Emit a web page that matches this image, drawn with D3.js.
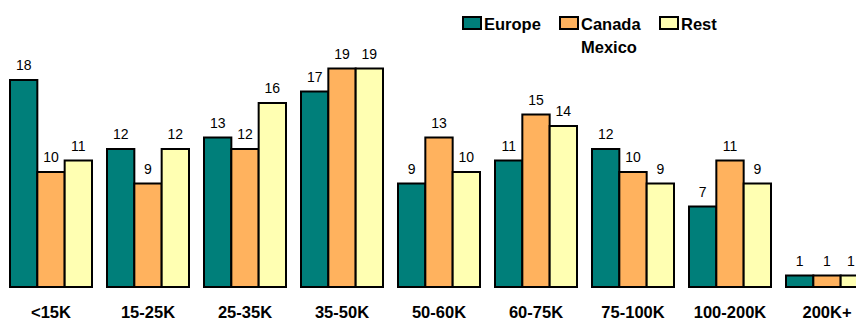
<!DOCTYPE html>
<html>
<head>
<meta charset="utf-8">
<script src="https://cdn.jsdelivr.net/npm/d3@7"></script>
<style>
  html, body { margin: 0; padding: 0; background: #fff; }
  svg { display: block; }
</style>
</head>
<body>
<svg id="chart" width="856" height="320"></svg>
<script>
// Income brackets along the x axis
const categories = ["<15K", "15-25K", "25-35K", "35-50K", "50-60K", "60-75K", "75-100K", "100-200K", "200K+"];

// Series names (legend lines split on "\n")
const seriesNames = ["Europe", "Canada\nMexico", "Rest"];

// Percent of respondents per bracket, one array per series
const europe = [18, 12, 13, 17, 9, 11, 12, 7, 1];
const canadaMexico = [10, 9, 12, 19, 13, 15, 10, 11, 1];
const rest = [11, 12, 16, 19, 10, 14, 9, 9, 1];

const seriesValues = [europe, canadaMexico, rest];
const colors = ["#007f7a", "#ffb25e", "#ffffb2"];

const svg = d3.select("#chart");
const W = 856, H = 320;

const x = d3.scaleBand()
  .domain(categories)
  .range([2.5, 875.5])
  .paddingInner(15 / 97)
  .paddingOuter(7.5 / 97);

const xs = d3.scaleBand()
  .domain(d3.range(seriesNames.length))
  .range([0, x.bandwidth()])
  .padding(0);

const y = d3.scaleLinear()
  .domain([0, 20])
  .range([287, 57]);

const rows = categories.map((c, i) => ({
  cat: c,
  vals: seriesValues.map((s, j) => ({ j, v: s[i] }))
}));

const groups = svg.append("g").selectAll("g")
  .data(rows)
  .join("g")
  .attr("transform", d => `translate(${x(d.cat)},0)`);

groups.selectAll("rect")
  .data(d => d.vals)
  .join("rect")
  .attr("x", d => xs(d.j))
  .attr("y", d => y(d.v))
  .attr("width", xs.bandwidth())
  .attr("height", d => y(0) - y(d.v))
  .attr("fill", d => colors[d.j])
  .attr("stroke", "#000")
  .attr("stroke-width", 2);

// Value labels, kept inside the right edge of the canvas
groups.selectAll("text.val")
  .data(d => d.vals.map(v => ({ ...v, gx: x(d.cat) })))
  .join("text")
  .attr("class", "val")
  .attr("x", d => Math.min(xs(d.j) + xs.bandwidth() / 2, W - 5 - d.gx))
  .attr("y", d => y(d.v) - 10)
  .attr("text-anchor", "middle")
  .attr("font-family", "'Liberation Sans', Arial, sans-serif")
  .attr("font-size", 14)
  .attr("fill", "#000")
  .text(d => d.v);

// Category axis labels (no axis line or ticks)
const xAxis = svg.append("g")
  .attr("transform", `translate(0,${y(0)})`)
  .call(d3.axisBottom(x).tickSize(0).tickPadding(0));
xAxis.select(".domain").remove();
xAxis.selectAll("text")
  .attr("dy", null)
  .attr("y", 31)
  .attr("font-family", "'Liberation Sans', Arial, sans-serif")
  .attr("font-size", 16.5)
  .attr("font-weight", "bold")
  .attr("fill", "#000");

// Legend
const legendX = [463, 560, 660];
const legend = svg.append("g").selectAll("g")
  .data(seriesNames)
  .join("g")
  .attr("transform", (d, i) => `translate(${legendX[i]},17)`);

legend.append("rect")
  .attr("width", 18)
  .attr("height", 12)
  .attr("fill", (d, i) => colors[i])
  .attr("stroke", "#000")
  .attr("stroke-width", 2);

legend.append("text")
  .attr("x", 21)
  .attr("y", 12.5)
  .attr("font-family", "'Liberation Sans', Arial, sans-serif")
  .attr("font-size", 16.5)
  .attr("font-weight", "bold")
  .attr("fill", "#000")
  .selectAll("tspan")
  .data(d => d.split("\n"))
  .join("tspan")
  .attr("x", 21)
  .attr("dy", (d, k) => k === 0 ? 0 : 23)
  .text(d => d);
</script>
</body>
</html>
